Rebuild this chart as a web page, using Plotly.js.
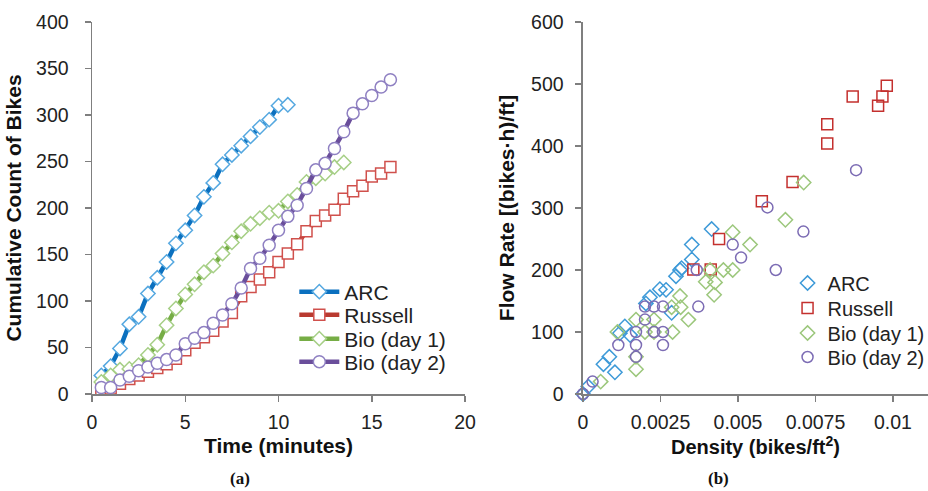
<!DOCTYPE html>
<html><head><meta charset="utf-8">
<script src="https://cdn.plot.ly/plotly-3.0.1.min.js"></script>
<style>html,body{margin:0;padding:0;background:#fff}</style>
</head><body><div id="chart" style="width:928px;height:491px"></div>
<script>
// ---- Panel (a): cumulative counts ----
const seriesNames = ["ARC", "Russell", "Bio (day 1)", "Bio (day 2)"];
const arcTime = [0.5,1,1.5,2,2.5,3,3.5,4,4.5,5,5.5,6,6.5,7,7.5,8,8.5,9,9.5,10,10.5];
const arcCount = [20,30,49,75,83,108,125,142,162,176,192,212,227,247,257,267,277,287,295,310,311];
const russellTime = [0.5,1,1.5,2,2.5,3,3.5,4,4.5,5,5.5,6,6.5,7,7.5,8,8.5,9,9.5,10,10.5,11,11.5,12,12.5,13,13.5,14,14.5,15,15.5,16];
const russellCount = [5,6,11,16,20,24,28,32,38,47,55,61,68,78,87,105,115,123,131,142,151,161,175,186,192,198,210,218,224,234,237,244];
const bio1Time = [0.5,1,1.5,2,2.5,3,3.5,4,4.5,5,5.5,6,6.5,7,7.5,8,8.5,9,9.5,10,10.5,11,11.5,12,12.5,13,13.5];
const bio1Count = [13,20,26,27,31,42,53,74,92,107,118,131,138,151,163,175,183,189,195,197,207,214,228,232,237,244,249];
const bio2Time = [0.5,1,1.5,2,2.5,3,3.5,4,4.5,5,5.5,6,6.5,7,7.5,8,8.5,9,9.5,10,10.5,11,11.5,12,12.5,13,13.5,14,14.5,15,15.5,16];
const bio2Count = [7,7,15,19,25,29,33,37,42,54,60,66,76,85,97,114,135,146,160,176,191,203,221,241,248,264,282,302,312,321,330,338];

// ---- Panel (b): flow rate vs density ----
const arcDensity = [0,0.00017,0.00066,0.00085,0.00103,0.00119,0.00135,0.00152,0.00203,0.00216,0.00248,0.00268,0.00286,0.003,0.00313,0.00318,0.00351,0.00351,0.00415];
const arcFlow = [0,12,48,60,35,98,109,95,146,156,169,168,131,190,200,203,217,241,266];
const russellDensity = [0.00356,0.00412,0.00439,0.00577,0.00676,0.00788,0.00788,0.0087,0.00952,0.00966,0.0098];
const russellFlow = [201,201,250,311,342,404,435,480,465,480,497];
const bio1Density = [0.00057,0.00111,0.00171,0.00171,0.00171,0.002,0.00229,0.00229,0.00289,0.00286,0.00313,0.00315,0.0034,0.0041,0.00396,0.00426,0.00423,0.00453,0.00483,0.00483,0.00539,0.00653,0.00712];
const bio1Flow = [20,100,120,60,40,100,120,100,100,140,158,140,120,200,181,180,160,200,200,261,241,281,341];
const bio2Density = [0,0.00031,0.00114,0.00171,0.00171,0.00171,0.002,0.002,0.00229,0.00229,0.00258,0.00258,0.00258,0.00372,0.00367,0.00483,0.0051,0.00595,0.00622,0.00711,0.00881];
const bio2Flow = [0,20,79,100,79,60,141,120,141,100,141,100,79,141,200,241,220,301,200,262,361];

const timeTicks = [0,5,10,15,20];
const countTicks = [0,50,100,150,200,250,300,350,400];
const densityTicks = [0,0.0025,0.005,0.0075,0.01];
const densityTickText = ["0","0.0025","0.005","0.0075","0.01"];
const flowTicks = [0,100,200,300,400,500,600];

const lineColors = ["#0b70bf","#b93a30","#76ad45","#6a4e9b"];
const markOutline = ["#55a8e0","#d0504c","#a6cf86","#8f80c2"];
const scatColors = ["#3e9ad8","#c4302e","#9cc77c","#7c6cb4"];
const symbols = ["diamond-open","square-open","diamond-open","circle-open"];
const lSymbols = ["diamond","square","diamond","circle"];
const lSizes = [11,11,11,12];

const lineX = [arcTime, russellTime, bio1Time, bio2Time];
const lineY = [arcCount, russellCount, bio1Count, bio2Count];
const scX = [arcDensity, russellDensity, bio1Density, bio2Density];
const scY = [arcFlow, russellFlow, bio1Flow, bio2Flow];

const SANS = "Liberation Sans, Arial, sans-serif";
// legend row centres in pixels (positioning only)
const leftRows = [292, 315, 339, 362];
const rightRows = [283, 308, 333, 357];
const plotTop = 22, plotH = 372;

const traces = [];
const layoutLegends = {};
for (let i = 0; i < 4; i++) {
  const lg = "legend" + (i === 0 ? "" : (i + 1));
  traces.push({
    x: lineX[i], y: lineY[i], type: "scatter", mode: "lines+markers",
    name: seriesNames[i], xaxis: "x", yaxis: "y", legend: lg,
    line: {color: lineColors[i], width: 4.5},
    marker: {symbol: lSymbols[i], size: lSizes[i], color: "#ffffff", line: {color: markOutline[i], width: 1.5}},
    cliponaxis: false
  });
  layoutLegends[lg] = {x: 0.242, y: 1 - (leftRows[i] - plotTop) / plotH, xanchor: "left", yanchor: "middle",
    bgcolor: "rgba(0,0,0,0)", font: {family: SANS, size: 21, color: "#222"}, itemwidth: 40};
}
for (let i = 0; i < 4; i++) {
  const lg = "legend" + (i + 5);
  traces.push({
    x: scX[i], y: scY[i], type: "scatter", mode: "markers",
    name: seriesNames[i], xaxis: "x2", yaxis: "y2", legend: lg,
    marker: {symbol: symbols[i], size: 11, color: scatColors[i], line: {color: scatColors[i], width: 1.5}},
    cliponaxis: false
  });
  layoutLegends[lg] = {x: 0.832, y: 1 - (rightRows[i] - plotTop) / plotH, xanchor: "left", yanchor: "middle",
    bgcolor: "rgba(0,0,0,0)", font: {family: SANS, size: 20, color: "#222"}, itemwidth: 30};
}

const axCommon = {
  showgrid: false, zeroline: false, showline: true, linecolor: "#7f7f7f", linewidth: 1.5,
  ticks: "outside", ticklen: 6, tickcolor: "#7f7f7f", tickwidth: 1.5,
  tickfont: {family: SANS, size: 19.5, color: "#222"}
};
const titleFont = {family: SANS, size: 21, color: "#111", weight: "bold"};

const layout = Object.assign({
  width: 928, height: 491,
  margin: {l: 92, r: 0, t: 22, b: 97, autoexpand: false},
  paper_bgcolor: "#fff", plot_bgcolor: "#fff",
  showlegend: true,
  xaxis: Object.assign({}, axCommon, {domain: [0, 0.4462], range: [0, 20], tickvals: timeTicks,
    ticklabelstandoff: 4, title: {text: "Time (minutes)", font: titleFont, standoff: 6}}),
  yaxis: Object.assign({}, axCommon, {domain: [0, 1], range: [0, 400], tickvals: countTicks,
    ticklabelstandoff: 12, title: {text: "Cumulative Count of Bikes", font: titleFont, standoff: 8}}),
  xaxis2: Object.assign({}, axCommon, {domain: [0.5873, 1], range: [0, 0.01113], tickvals: densityTicks, ticktext: densityTickText,
    anchor: "y2", ticklabelstandoff: 4, title: {text: "Density (bikes/ft<sup>2</sup>)", font: Object.assign({}, titleFont, {size: 20}), standoff: 6}}),
  yaxis2: Object.assign({}, axCommon, {domain: [0, 1], range: [0, 600], tickvals: flowTicks, anchor: "x2",
    ticklabelstandoff: 8, title: {text: "Flow Rate [(bikes·h)/ft]", font: titleFont, standoff: 10}}),
  annotations: [
    {text: "<b>(a)</b>", xref: "paper", yref: "paper", x: 0.177, y: -0.228, xanchor: "center", yanchor: "middle", showarrow: false,
     font: {family: "Liberation Serif, Times New Roman, serif", size: 17, color: "#111"}},
    {text: "<b>(b)</b>", xref: "paper", yref: "paper", x: 0.749, y: -0.228, xanchor: "center", yanchor: "middle", showarrow: false,
     font: {family: "Liberation Serif, Times New Roman, serif", size: 17, color: "#111"}}
  ]
}, layoutLegends);

Plotly.newPlot("chart", traces, layout, {displayModeBar: false, staticPlot: true});
</script></body></html>
